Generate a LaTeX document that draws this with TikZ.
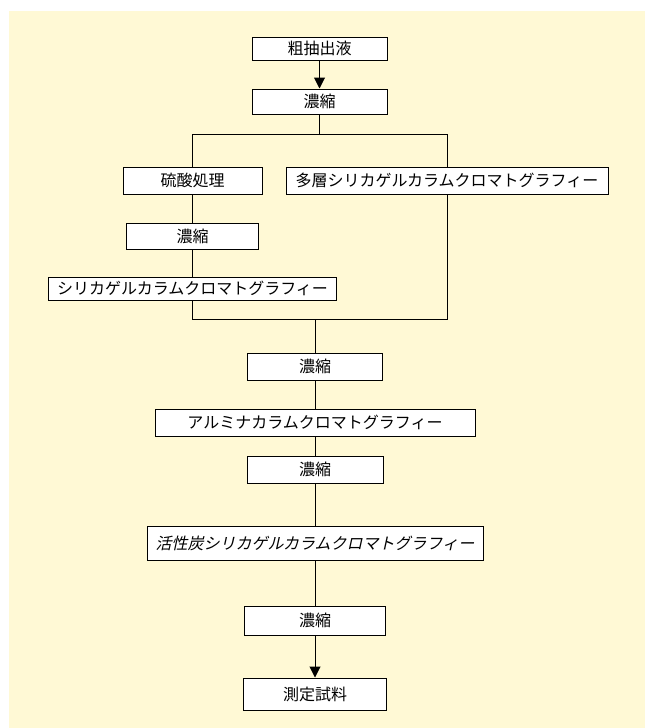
\documentclass[tikz,border=0pt]{standalone}
\usepackage{fontspec}
\newfontfamily\jp{Noto Sans CJK JP}
\newfontfamily\jpit[FakeSlant=0.22]{Noto Sans CJK JP}
\usetikzlibrary{arrows.meta}
\definecolor{bgyellow}{RGB}{255,249,213}
\begin{document}
\begin{tikzpicture}[x=1pt,y=-1pt,
  stepbox/.style={draw=black,line width=1pt,fill=white,inner sep=0pt,align=center,
    font=\jp\fontsize{16}{16}\selectfont},
  link/.style={line width=1pt,draw=black},
  arr/.style={link,-{Triangle[width=11pt,length=11pt]}}]
\useasboundingbox (0,0) rectangle (645,728);
\fill[white] (0,0) rectangle (645,728);
\fill[bgyellow] (9,11) rectangle (645,728);
% nodes
\node[stepbox,minimum width=135pt,minimum height=23pt] (raw) at (319.5,48.5) {粗抽出液};
\node[stepbox,minimum width=135pt,minimum height=25pt] (c1) at (319.5,101.5) {濃縮};
\node[stepbox,minimum width=139pt,minimum height=27pt] (sulf) at (192.6,180.5) {硫酸処理};
\node[stepbox,minimum width=322pt,minimum height=27pt] (multi) at (447,180.5) {多層シリカゲルカラムクロマトグラフィー};
\node[stepbox,minimum width=132pt,minimum height=26pt] (c2) at (192.6,236) {濃縮};
\node[stepbox,minimum width=288pt,minimum height=23pt] (silica) at (192.6,288.5) {シリカゲルカラムクロマトグラフィー};
\node[stepbox,minimum width=135pt,minimum height=27pt] (c3) at (315,366.5) {濃縮};
\node[stepbox,minimum width=320pt,minimum height=27pt] (alum) at (315,422.5) {アルミナカラムクロマトグラフィー};
\node[stepbox,minimum width=136pt,minimum height=27pt] (c4) at (315,469.5) {濃縮};
\node[stepbox,minimum width=336pt,minimum height=34pt,font=\jpit\fontsize{16}{16}\selectfont] (act) at (315,543) {活性炭シリカゲルカラムクロマトグラフィー};
\node[stepbox,minimum width=141pt,minimum height=29pt] (c5) at (315,620.5) {濃縮};
\node[stepbox,minimum width=143pt,minimum height=32pt] (meas) at (315,694) {測定試料};
% helper coordinates
\coordinate (split) at (319.5,134);
\coordinate (merge) at (315,319);
% connectors
\draw[arr] (raw.south) -- (c1.north);
\draw[link] (c1.south) -- (split);
\draw[link] (sulf.north) -- (sulf.north |- split) -- (multi.north |- split) -- (multi.north);
\draw[link] (sulf.south) -- (c2.north);
\draw[link] (c2.south) -- (silica.north);
\draw[link] (silica.south) -- (silica.south |- merge) -- (multi.south |- merge) -- (multi.south);
\draw[link] (merge) -- (c3.north);
\draw[link] (c3.south) -- (alum.north);
\draw[link] (alum.south) -- (c4.north);
\draw[link] (c4.south) -- (act.north);
\draw[link] (act.south) -- (c5.north);
\draw[arr] (c5.south) -- (meas.north);
\end{tikzpicture}
\end{document}
